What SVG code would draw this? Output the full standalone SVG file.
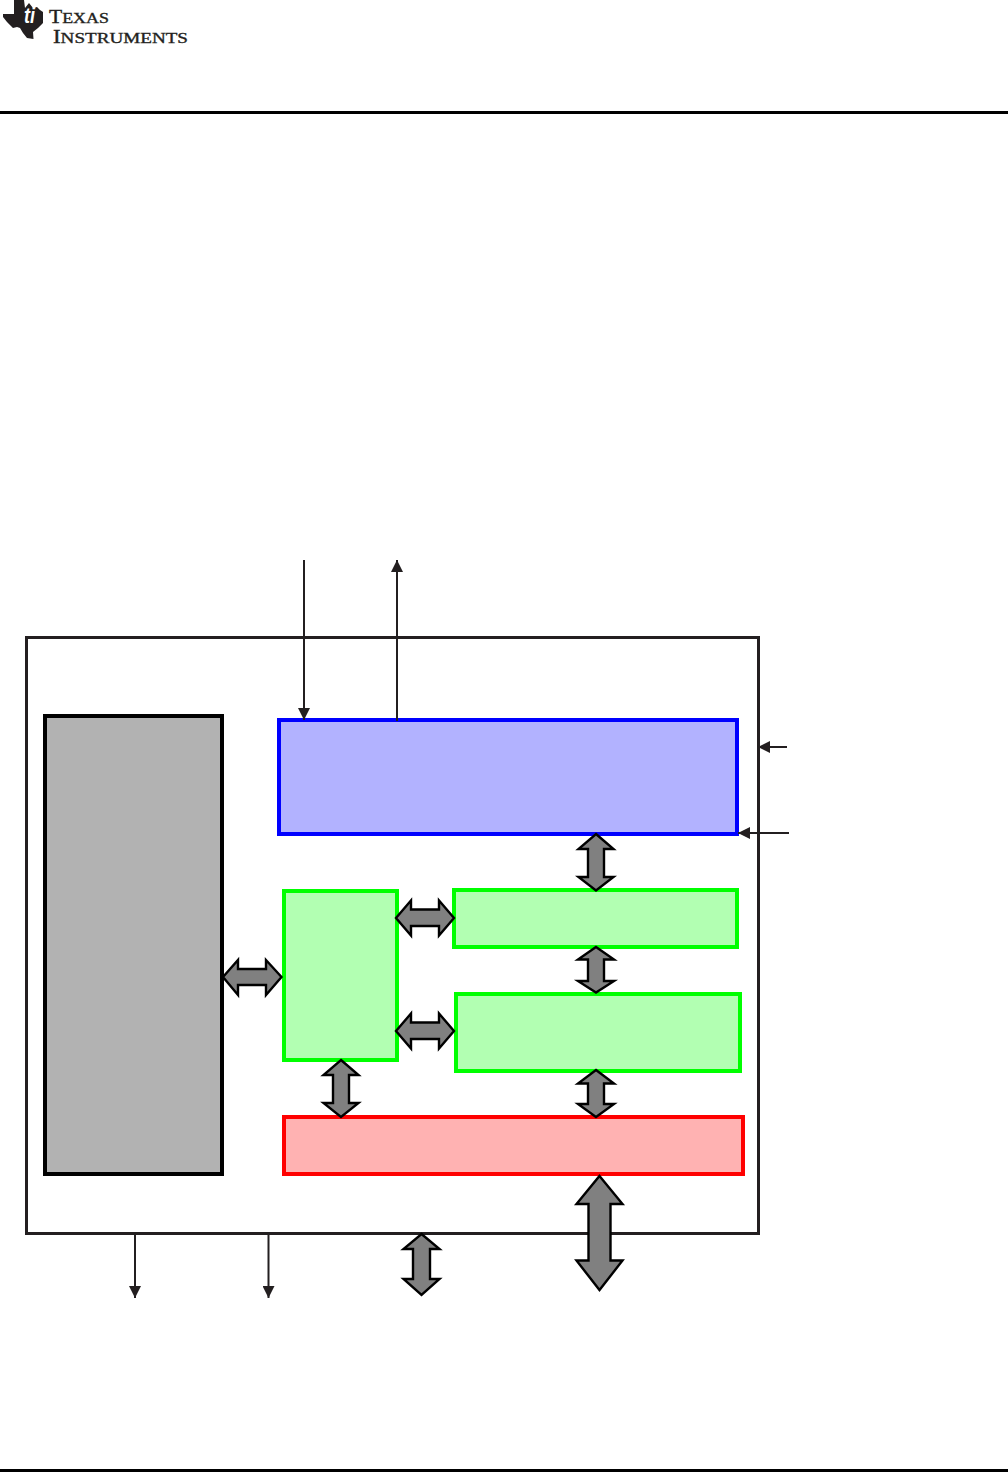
<svg xmlns="http://www.w3.org/2000/svg" width="1008" height="1472" viewBox="0 0 1008 1472">
<style>
.rule{fill:#000}
.thin{fill:none;stroke:#231f20;stroke-width:2}
.big{fill:#808080;stroke:#000;stroke-width:2.4;stroke-linejoin:miter}
.box{stroke-width:4}
.g{fill:#b2ffb2;stroke:#00ff00}
.logo{font-family:"Liberation Serif",serif;fill:#231f20;stroke:#231f20;stroke-width:.35}
.ti{font-family:"Liberation Sans",sans-serif;font-style:italic;font-weight:700;fill:#fff}
</style>
<defs>
<marker id="h" markerUnits="userSpaceOnUse" markerWidth="12" markerHeight="12" refX="12" refY="6" orient="auto"><path d="M0 0L12 6L0 12Z" fill="#231f20"/></marker>
</defs>
<rect fill="#fff" width="1008" height="1472"/>
<g id="logo">
<path d="M14 0H24L25 8L29 3L33 8L37 7L40 10L43 12V23L38 28L33 32L33.500 39L27 38L23 33L20 28L17 27L13 28L7 22L3 17V14H14Z" fill="#231f20"/>
<text class="ti" x="24" y="23" font-size="22" textLength="11" lengthAdjust="spacingAndGlyphs">ti</text>
<text class="logo" x="49" y="23" font-size="18" textLength="60" lengthAdjust="spacingAndGlyphs">T<tspan font-size="15">EXAS</tspan></text>
<text class="logo" x="53" y="43" font-size="18" textLength="135" lengthAdjust="spacingAndGlyphs">I<tspan font-size="15">NSTRUMENTS</tspan></text>
</g>
<rect id="header-rule" class="rule" x="0" y="111" width="1008" height="3"/>
<rect id="footer-rule" class="rule" x="0" y="1469" width="1008" height="3"/>
<g id="outer"><rect x="26.500" y="637.500" width="732" height="596" fill="#fff" stroke="#231f20" stroke-width="3"/></g>
<g id="grey-block"><rect class="box" x="45" y="716" width="177" height="458" fill="#b2b2b2" stroke="#000"/></g>
<g id="blue-block"><rect class="box" x="279" y="720" width="458" height="114" fill="#b2b2ff" stroke="#0000ff"/></g>
<g id="green-left"><rect class="box g" x="284" y="891" width="113" height="169"/></g>
<g id="green-top"><rect class="box g" x="454" y="890" width="283" height="57"/></g>
<g id="green-mid"><rect class="box g" x="456" y="994" width="284" height="77"/></g>
<g id="red-block"><rect class="box" x="284" y="1117" width="459" height="57" fill="#ffb2b2" stroke="#ff0000"/></g>
<g id="connectors">
<path class="thin" d="M304 560V720" marker-end="url(#h)"/>
<path class="thin" d="M397 721V560" marker-end="url(#h)"/>
<path class="thin" d="M787 747H758" marker-end="url(#h)"/>
<path class="thin" d="M789 833H738" marker-end="url(#h)"/>
<path class="thin" d="M135 1234V1298" marker-end="url(#h)"/>
<path class="thin" d="M268.500 1234V1298" marker-end="url(#h)"/>
<polygon class="big" points="223,977 238,960 238,969 266,969 266,960 281.500,977 266,995 266,985 238,985 238,995"/>
<polygon class="big" points="396,918 411,900.500 411,909.500 439,909.500 439,900.500 454,918 439,935.500 439,926 411,926 411,935.500"/>
<polygon class="big" points="396,1031 411,1013.500 411,1022.500 439,1022.500 439,1013.500 454,1031 439,1048.500 439,1039 411,1039 411,1048.500"/>
<polygon class="big" points="341,1060 358.500,1075 349,1075 349,1103 358.500,1103 341,1117 323.500,1103 333,1103 333,1075 323.500,1075"/>
<polygon class="big" points="596,834 613.500,849 604,849 604,877 613.500,877 596,890.500 578.500,877 588,877 588,849 578.500,849"/>
<polygon class="big" points="596,947 614,959.500 604,959.500 604,981 614,981 596,992.500 578,981 588,981 588,959.500 578,959.500"/>
<polygon class="big" points="596,1070 614,1083.500 604,1083.500 604,1104 614,1104 596,1117 578,1104 588,1104 588,1083.500 578,1083.500"/>
<polygon class="big" points="421.500,1234 439.500,1249 430,1249 430,1279 439.500,1279 421.500,1295 403.500,1279 413,1279 413,1249 403.500,1249"/>
<polygon class="big" points="599.500,1176 622.500,1204 610.500,1204 610.500,1260.500 622.500,1260.500 599.500,1290 576.500,1260.500 588.500,1260.500 588.500,1204 576.500,1204"/>
</g>
</svg>
